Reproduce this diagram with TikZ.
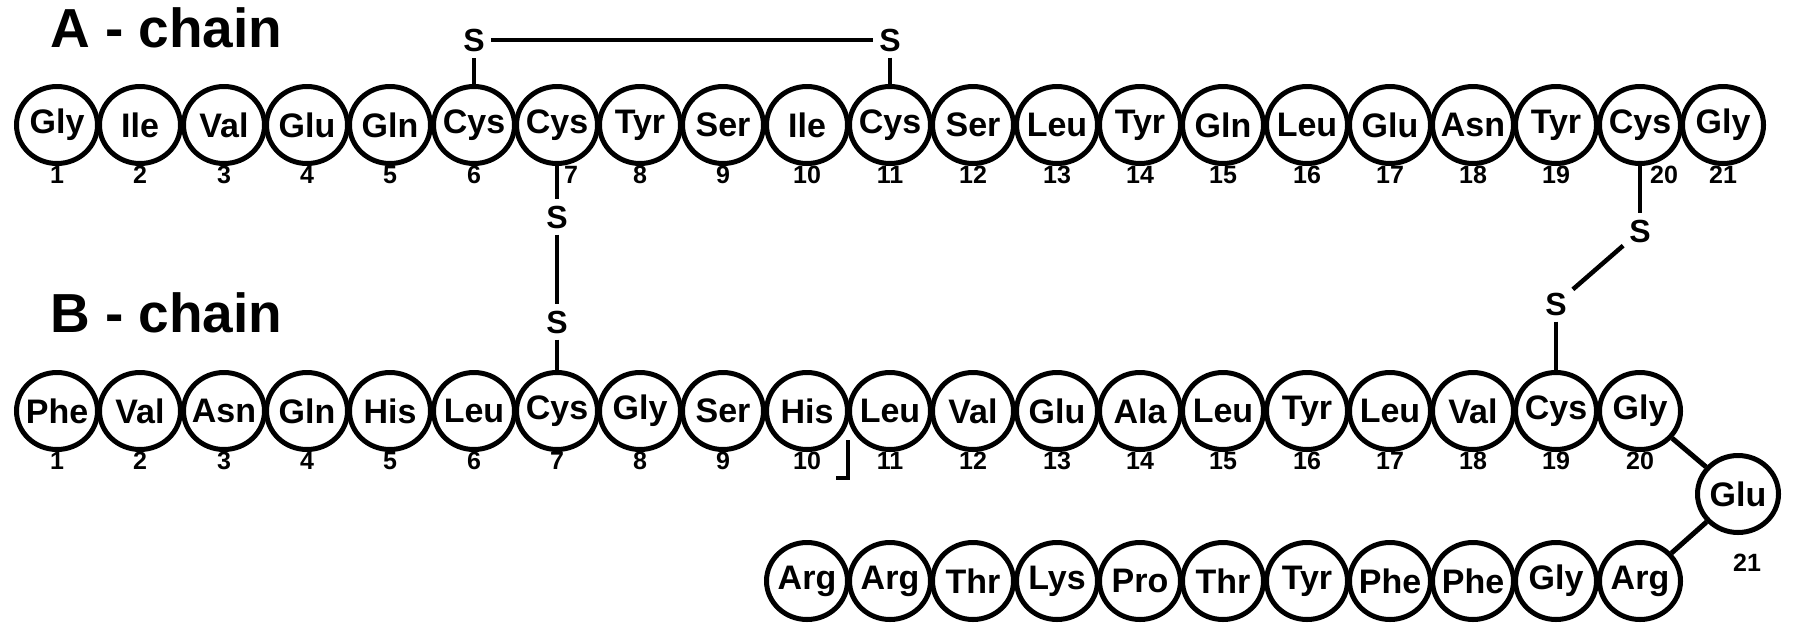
\documentclass[tikz,border=0pt]{standalone}
\usepackage{fontspec}
\setmainfont{Liberation Sans}
\usepackage{tikz}
\usetikzlibrary{shapes.geometric}

\begin{document}
\begin{tikzpicture}[x=1pt, y=-1pt, every node/.style={font=\bfseries}]
    % Define styles
    \tikzstyle{residue} = [ellipse, draw=black, line width=5pt, minimum width=81pt, minimum height=77pt, inner sep=0pt, font=\fontsize{34}{34}\selectfont\bfseries, execute at begin node={\hbox to 0pt\bgroup\hss}, execute at end node={\hss\egroup}, label distance=16pt]
    \tikzstyle{sulfur} = [inner sep=6pt, font=\fontsize{32}{32}\selectfont\bfseries]
    \tikzstyle{chainlabel} = [anchor=west, inner sep=0pt, font=\fontsize{55}{55}\selectfont\bfseries]
    \tikzstyle{bond} = [line width=4.5pt]
    \tikzstyle{link} = [line width=5pt]
    \tikzset{every label/.style={inner sep=0pt, font=\fontsize{25}{25}\selectfont\bfseries}}

    \useasboundingbox (0,0) rectangle (1793,622);

    % Chain labels
    \node (alabel) [chainlabel] at (50, 28) {A - chain};
    \node (blabel) [chainlabel] at (50, 313) {B - chain};

    % A-chain residues
    \node (a1) [residue, label=below:1] at (57, 125) {Gly};
    \node (a2) [residue, label=below:2] at (140, 125) {Ile};
    \node (a3) [residue, label=below:3] at (224, 125) {Val};
    \node (a4) [residue, label=below:4] at (307, 125) {Glu};
    \node (a5) [residue, label=below:5] at (390, 125) {Gln};
    \node (a6) [residue, label=below:6] at (474, 125) {Cys};
    \node (a7) [residue, label={[xshift=14pt]below:7}] at (557, 125) {Cys};
    \node (a8) [residue, label=below:8] at (640, 125) {Tyr};
    \node (a9) [residue, label=below:9] at (723, 125) {Ser};
    \node (a10) [residue, label=below:10] at (807, 125) {Ile};
    \node (a11) [residue, label=below:11] at (890, 125) {Cys};
    \node (a12) [residue, label=below:12] at (973, 125) {Ser};
    \node (a13) [residue, label=below:13] at (1057, 125) {Leu};
    \node (a14) [residue, label=below:14] at (1140, 125) {Tyr};
    \node (a15) [residue, label=below:15] at (1223, 125) {Gln};
    \node (a16) [residue, label=below:16] at (1307, 125) {Leu};
    \node (a17) [residue, label=below:17] at (1390, 125) {Glu};
    \node (a18) [residue, label=below:18] at (1473, 125) {Asn};
    \node (a19) [residue, label=below:19] at (1556, 125) {Tyr};
    \node (a20) [residue, label={[xshift=24pt]below:20}] at (1640, 125) {Cys};
    \node (a21) [residue, label=below:21] at (1723, 125) {Gly};

    % B-chain residues
    \node (b1) [residue, label=below:1] at (57, 411) {Phe};
    \node (b2) [residue, label=below:2] at (140, 411) {Val};
    \node (b3) [residue, label=below:3] at (224, 411) {Asn};
    \node (b4) [residue, label=below:4] at (307, 411) {Gln};
    \node (b5) [residue, label=below:5] at (390, 411) {His};
    \node (b6) [residue, label=below:6] at (474, 411) {Leu};
    \node (b7) [residue, label=below:7] at (557, 411) {Cys};
    \node (b8) [residue, label=below:8] at (640, 411) {Gly};
    \node (b9) [residue, label=below:9] at (723, 411) {Ser};
    \node (b10) [residue, label=below:10] at (807, 411) {His};
    \node (b11) [residue, label=below:11] at (890, 411) {Leu};
    \node (b12) [residue, label=below:12] at (973, 411) {Val};
    \node (b13) [residue, label=below:13] at (1057, 411) {Glu};
    \node (b14) [residue, label=below:14] at (1140, 411) {Ala};
    \node (b15) [residue, label=below:15] at (1223, 411) {Leu};
    \node (b16) [residue, label=below:16] at (1307, 411) {Tyr};
    \node (b17) [residue, label=below:17] at (1390, 411) {Leu};
    \node (b18) [residue, label=below:18] at (1473, 411) {Val};
    \node (b19) [residue, label=below:19] at (1556, 411) {Cys};
    \node (b20) [residue, label=below:20] at (1640, 411) {Gly};
    \node (b21) [residue, label={[xshift=9pt, label distance=19pt]below:21}] at (1738, 494) {Glu};

    % B-chain tail, running back to the left
    \node (b22) [residue] at (1640, 581) {Arg};
    \node (b23) [residue] at (1556, 581) {Gly};
    \node (b24) [residue] at (1473, 581) {Phe};
    \node (b25) [residue] at (1390, 581) {Phe};
    \node (b26) [residue] at (1307, 581) {Tyr};
    \node (b27) [residue] at (1223, 581) {Thr};
    \node (b28) [residue] at (1140, 581) {Pro};
    \node (b29) [residue] at (1057, 581) {Lys};
    \node (b30) [residue] at (973, 581) {Thr};
    \node (b31) [residue] at (890, 581) {Arg};
    \node (b32) [residue] at (807, 581) {Arg};

    % Sulfur atoms
    \node (sa6) [sulfur] at (474, 40) {S};
    \node (sa11) [sulfur] at (890, 40) {S};
    \node (sa7) [sulfur] at (557, 217) {S};
    \node (sb7) [sulfur] at (557, 322) {S};
    \node (sa20) [sulfur] at (1640, 231) {S};
    \node (sb19) [sulfur] at (1556, 304) {S};

    % Disulfide bridges
    \draw [bond] (a6) -- (sa6);
    \draw [bond] (sa6) -- (sa11);
    \draw [bond] (sa11) -- (a11);
    \draw [bond] (a7) -- (sa7);
    \draw [bond] (sa7) -- (sb7);
    \draw [bond] (sb7) -- (b7);
    \draw [bond] (a20) -- (sa20);
    \draw [bond] (sa20) -- (sb19);
    \draw [bond] (sb19) -- (b19);

    % Bend of the B-chain
    \draw [link] (b20) -- (b21);
    \draw [link] (b21) -- (b22);

    % Mark between B10 and B11
    \coordinate (mark10top) at (848, 440);
    \coordinate (mark10bot) at (848, 478);
    \draw [bond] (mark10top) -- (mark10bot) -- ++(-12, 0);
\end{tikzpicture}
\end{document}
